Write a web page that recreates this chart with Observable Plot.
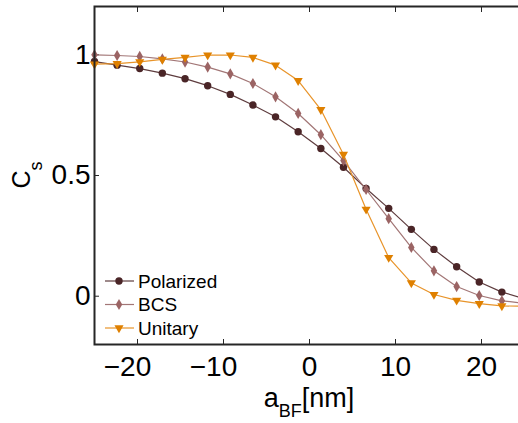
<!DOCTYPE html>
<html>
<head>
<meta charset="utf-8">
<script src="https://cdn.jsdelivr.net/npm/d3@7"></script>
<script src="https://cdn.jsdelivr.net/npm/@observablehq/plot@0.6"></script>
<style>
  html, body { margin: 0; padding: 0; background: white; }
  #chart { width: 518px; height: 423px; overflow: hidden; }
</style>
</head>
<body>
<div id="chart"></div>
<script>
// ---- data ----
const aBF = [-25, -22.37, -19.74, -17.11, -14.47, -11.84, -9.21, -6.58, -3.95, -1.32,
             1.32, 3.95, 6.58, 9.21, 11.84, 14.47, 17.11, 19.74, 22.37, 25];
const polarized = [0.972, 0.957, 0.943, 0.924, 0.901, 0.872, 0.836, 0.792, 0.743, 0.681,
                   0.612, 0.534, 0.446, 0.364, 0.277, 0.194, 0.122, 0.059, 0.017, -0.010];
const bcs = [1.000, 0.997, 0.993, 0.983, 0.970, 0.949, 0.921, 0.881, 0.826, 0.757,
             0.669, 0.562, 0.442, 0.321, 0.202, 0.105, 0.040, 0.003, -0.019, -0.029];
const unitary = [0.961, 0.963, 0.971, 0.981, 0.989, 0.999, 0.999, 0.989, 0.957, 0.893,
                 0.773, 0.587, 0.360, 0.160, 0.055, 0.007, -0.017, -0.031, -0.040, -0.042];
const seriesNames = ["Polarized", "BCS", "Unitary"];
const xTicks = [-20, -10, 0, 10, 20];
const xTickLabels = ["\u221220", "\u221210", "0", "10", "20"];
const yTicks = [0, 0.5, 1];
const yTickLabels = ["0", "0.5", "1"];

// ---- styles ----
const styles = [
  {values: polarized, symbol: "circle",   fill: "#4a2527", line: "#5e3c3e", r: 3.7, rotate: 0},
  {values: bcs,       symbol: "diamond",  fill: "#9b6464", line: "#a27676", r: 3.4, rotate: 0},
  {values: unitary,   symbol: "triangle", fill: "#df8000", line: "#e8942a", r: 3.4, rotate: 180}
];
const series = seriesNames.map((name, i) => ({
  name, ...styles[i],
  data: aBF.map((x, j) => ({x, y: styles[i].values[j]}))
}));

const font = "'Liberation Sans', Arial, Helvetica, sans-serif";
const fmtX = d => xTickLabels[xTicks.indexOf(d)];
const marks = [
  Plot.axisX(xTicks, {anchor: "bottom", tickSize: -5, tickFormat: () => "", label: null, stroke: "#262626"}),
  Plot.axisX(xTicks.filter(d => d < 0), {anchor: "bottom", tickSize: 0, tickPadding: 12, dx: -10, fontSize: 28,
    tickFormat: fmtX, label: null}),
  Plot.axisX(xTicks.filter(d => d >= 0), {anchor: "bottom", tickSize: 0, tickPadding: 12, fontSize: 28,
    tickFormat: fmtX, label: null}),
  Plot.axisX(xTicks, {anchor: "top", tickSize: -5, tickFormat: () => "", label: null, stroke: "#262626"}),
  Plot.axisY(yTicks, {anchor: "left", tickSize: -5, tickPadding: 9, fontSize: 28,
    tickFormat: d => yTickLabels[yTicks.indexOf(d)], label: null, stroke: "#262626"})
];
for (const s of series) {
  marks.push(Plot.line(s.data, {x: "x", y: "y", stroke: s.line, strokeWidth: 1.2}));
  marks.push(Plot.dot(s.data, {x: "x", y: "y", symbol: s.symbol, fill: s.fill, r: s.r, rotate: s.rotate}));
}
marks.push(Plot.frame({stroke: "#262626", strokeWidth: 2}));

const plot = Plot.plot({
  width: 518, height: 423,
  marginLeft: 94, marginRight: -6, marginTop: 6, marginBottom: 79,
  style: {fontFamily: font, fontSize: "28px", background: "white", color: "#000"},
  x: {domain: [-25, 25]},
  y: {domain: [-0.2, 1.2]},
  marks
});
document.getElementById("chart").appendChild(plot);

// ---- axis labels and legend ----
const svg = d3.select(plot);
const xl = svg.append("text").attr("x", 309).attr("y", 407).attr("text-anchor", "middle")
  .attr("font-family", font).attr("font-size", 27).attr("fill", "#000");
xl.append("tspan").text("a");
xl.append("tspan").attr("font-size", 18).attr("dy", 10).text("BF");
xl.append("tspan").attr("dy", -10).text("[nm]");

const yl = svg.append("text").attr("transform", "translate(30,175) rotate(-90)").attr("text-anchor", "middle")
  .attr("font-family", font).attr("font-size", 25).attr("fill", "#000");
yl.append("tspan").text("C");
yl.append("tspan").attr("font-size", 18).attr("dy", 12).text("s");

const leg = svg.append("g").attr("font-family", font).attr("font-size", 19).attr("text-anchor", "start");
series.forEach((s, i) => {
  const cy = 281 + i * 23.5;
  leg.append("line").attr("x1", 105).attr("x2", 134).attr("y1", cy).attr("y2", cy)
    .attr("stroke", s.line).attr("stroke-width", 1.2);
  const symType = s.symbol === "circle" ? d3.symbolCircle : s.symbol === "diamond" ? d3.symbolDiamond : d3.symbolTriangle;
  leg.append("path").attr("d", d3.symbol(symType, s.r * s.r * Math.PI)())
    .attr("transform", `translate(119,${cy}) rotate(${s.rotate})`).attr("fill", s.fill);
  leg.append("text").attr("x", 138).attr("y", cy).attr("dy", "0.35em").attr("text-anchor", "start")
    .attr("fill", "#000").text(s.name);
});
</script>
</body>
</html>
